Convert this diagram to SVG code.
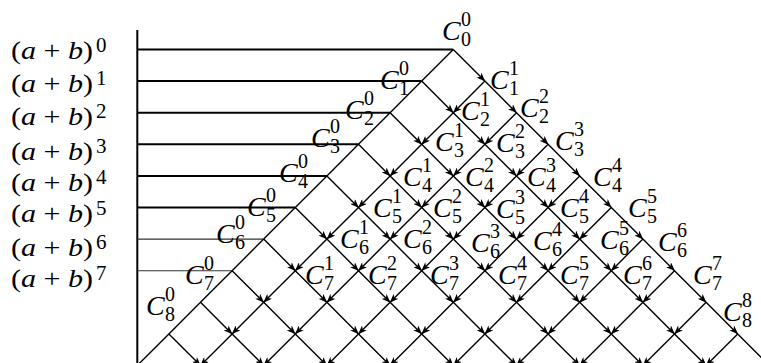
<svg xmlns="http://www.w3.org/2000/svg" width="761" height="363" viewBox="0 0 761 363">
<style>
.bg{fill:#fff}
.frame{stroke:#000;stroke-width:2;fill:none}
.hl{stroke:#000;stroke-width:2;fill:none}
.hlt{stroke:#333;stroke-width:1.1;fill:none}
.e{stroke:#000;stroke-width:1.4;fill:none;stroke-linejoin:miter}
.ea{marker-mid:url(#ah);marker-end:url(#ah)}
.c{font-family:"Liberation Serif","Times New Roman",serif;font-style:italic;font-size:28px;fill:#000}
.d{font-family:"Liberation Serif","Times New Roman",serif;font-size:20px;fill:#000}
.lt{font-family:"Liberation Serif","Times New Roman",serif;font-size:26px;fill:#000}
.i{font-style:italic}
.ls{font-family:"Liberation Serif","Times New Roman",serif;font-size:21px;fill:#000}
</style>
<defs>
<marker id="ah" markerUnits="userSpaceOnUse" viewBox="0 0 9 7" markerWidth="9" markerHeight="7" refX="8.5" refY="3.5" orient="auto">
<path d="M0,0 L9,3.5 L0,7 L2.5,3.5 z" fill="#000"/>
</marker>
</defs>
<rect class="bg" x="0" y="0" width="761" height="363"/>

<g id="axes">
<line class="frame" x1="137.3" y1="30" x2="137.3" y2="363"/>
<line class="hl" x1="137.3" y1="49.5" x2="453.3" y2="49.5"/>
<line class="hl" x1="137.3" y1="81.1" x2="421.7" y2="81.1"/>
<line class="hl" x1="137.3" y1="112.7" x2="390.1" y2="112.7"/>
<line class="hl" x1="137.3" y1="144.3" x2="358.5" y2="144.3"/>
<line class="hl" x1="137.3" y1="175.9" x2="326.9" y2="175.9"/>
<line class="hl" x1="137.3" y1="207.5" x2="295.3" y2="207.5"/>
<line class="hlt" x1="137.3" y1="239.1" x2="263.7" y2="239.1"/>
<line class="hlt" x1="137.3" y1="270.7" x2="232.1" y2="270.7"/>
</g>

<g id="connectors">
<polyline class="e ea" points="453.3,49.5 484.9,81.1 516.5,112.7 548.1,144.3 579.7,175.9 611.3,207.5 642.9,239.1 674.5,270.7 706.1,302.3 737.7,333.9 769.3,365.5"/>
<polyline class="e ea" points="421.7,81.1 453.3,112.7 484.9,144.3 516.5,175.9 548.1,207.5 579.7,239.1 611.3,270.7 642.9,302.3 674.5,333.9 706.1,365.5"/>
<polyline class="e ea" points="390.1,112.7 421.7,144.3 453.3,175.9 484.9,207.5 516.5,239.1 548.1,270.7 579.7,302.3 611.3,333.9 642.9,365.5"/>
<polyline class="e ea" points="358.5,144.3 390.1,175.9 421.7,207.5 453.3,239.1 484.9,270.7 516.5,302.3 548.1,333.9 579.7,365.5"/>
<polyline class="e ea" points="326.9,175.9 358.5,207.5 390.1,239.1 421.7,270.7 453.3,302.3 484.9,333.9 516.5,365.5"/>
<polyline class="e ea" points="295.3,207.5 326.9,239.1 358.5,270.7 390.1,302.3 421.7,333.9 453.3,365.5"/>
<polyline class="e ea" points="263.7,239.1 295.3,270.7 326.9,302.3 358.5,333.9 390.1,365.5"/>
<polyline class="e ea" points="232.1,270.7 263.7,302.3 295.3,333.9 326.9,365.5"/>
<polyline class="e ea" points="200.5,302.3 232.1,333.9 263.7,365.5"/>
<polyline class="e ea" points="168.9,333.9 200.5,365.5"/>
<polyline class="e" points="453.3,49.5 421.7,81.1 390.1,112.7 358.5,144.3 326.9,175.9 295.3,207.5 263.7,239.1 232.1,270.7 200.5,302.3 168.9,333.9 137.3,365.5"/>
<polyline class="e ea" points="484.9,81.1 453.3,112.7 421.7,144.3 390.1,175.9 358.5,207.5 326.9,239.1 295.3,270.7 263.7,302.3 232.1,333.9 200.5,365.5"/>
<polyline class="e ea" points="516.5,112.7 484.9,144.3 453.3,175.9 421.7,207.5 390.1,239.1 358.5,270.7 326.9,302.3 295.3,333.9 263.7,365.5"/>
<polyline class="e ea" points="548.1,144.3 516.5,175.9 484.9,207.5 453.3,239.1 421.7,270.7 390.1,302.3 358.5,333.9 326.9,365.5"/>
<polyline class="e ea" points="579.7,175.9 548.1,207.5 516.5,239.1 484.9,270.7 453.3,302.3 421.7,333.9 390.1,365.5"/>
<polyline class="e ea" points="611.3,207.5 579.7,239.1 548.1,270.7 516.5,302.3 484.9,333.9 453.3,365.5"/>
<polyline class="e ea" points="642.9,239.1 611.3,270.7 579.7,302.3 548.1,333.9 516.5,365.5"/>
<polyline class="e ea" points="674.5,270.7 642.9,302.3 611.3,333.9 579.7,365.5"/>
<polyline class="e ea" points="706.1,302.3 674.5,333.9 642.9,365.5"/>
<polyline class="e ea" points="737.7,333.9 706.1,365.5"/>
</g>

<g id="row-labels">
<g id="p0"><text class="lt" x="11" y="59" textLength="82" lengthAdjust="spacingAndGlyphs">(<tspan class="i">a</tspan> + <tspan class="i">b</tspan>)</text><text class="ls" x="96" y="52">0</text></g>
<g id="p1"><text class="lt" x="11" y="92" textLength="82" lengthAdjust="spacingAndGlyphs">(<tspan class="i">a</tspan> + <tspan class="i">b</tspan>)</text><text class="ls" x="96" y="85">1</text></g>
<g id="p2"><text class="lt" x="11" y="125" textLength="82" lengthAdjust="spacingAndGlyphs">(<tspan class="i">a</tspan> + <tspan class="i">b</tspan>)</text><text class="ls" x="96" y="118">2</text></g>
<g id="p3"><text class="lt" x="11" y="160" textLength="82" lengthAdjust="spacingAndGlyphs">(<tspan class="i">a</tspan> + <tspan class="i">b</tspan>)</text><text class="ls" x="96" y="153">3</text></g>
<g id="p4"><text class="lt" x="11" y="191" textLength="82" lengthAdjust="spacingAndGlyphs">(<tspan class="i">a</tspan> + <tspan class="i">b</tspan>)</text><text class="ls" x="96" y="184">4</text></g>
<g id="p5"><text class="lt" x="11" y="222" textLength="82" lengthAdjust="spacingAndGlyphs">(<tspan class="i">a</tspan> + <tspan class="i">b</tspan>)</text><text class="ls" x="96" y="215">5</text></g>
<g id="p6"><text class="lt" x="11" y="256" textLength="82" lengthAdjust="spacingAndGlyphs">(<tspan class="i">a</tspan> + <tspan class="i">b</tspan>)</text><text class="ls" x="96" y="249">6</text></g>
<g id="p7"><text class="lt" x="11" y="287" textLength="82" lengthAdjust="spacingAndGlyphs">(<tspan class="i">a</tspan> + <tspan class="i">b</tspan>)</text><text class="ls" x="96" y="280">7</text></g>
</g>

<g id="nodes">
<g id="c0-0"><text class="c" x="442" y="40">C</text><text class="d" x="461" y="26">0</text><text class="d" x="461" y="46">0</text></g>
<g id="c1-0"><text class="c" x="380" y="89">C</text><text class="d" x="399" y="75">0</text><text class="d" x="399" y="95">1</text></g>
<g id="c1-1"><text class="c" x="490" y="89">C</text><text class="d" x="509" y="75">1</text><text class="d" x="509" y="95">1</text></g>
<g id="c2-0"><text class="c" x="345" y="119">C</text><text class="d" x="364" y="105">0</text><text class="d" x="364" y="125">2</text></g>
<g id="c2-1"><text class="c" x="461" y="120">C</text><text class="d" x="480" y="106">1</text><text class="d" x="480" y="126">2</text></g>
<g id="c2-2"><text class="c" x="520" y="117">C</text><text class="d" x="539" y="103">2</text><text class="d" x="539" y="123">2</text></g>
<g id="c3-0"><text class="c" x="311" y="147">C</text><text class="d" x="330" y="133">0</text><text class="d" x="330" y="153">3</text></g>
<g id="c3-1"><text class="c" x="435" y="151">C</text><text class="d" x="454" y="137">1</text><text class="d" x="454" y="157">3</text></g>
<g id="c3-2"><text class="c" x="496" y="152">C</text><text class="d" x="515" y="138">2</text><text class="d" x="515" y="158">3</text></g>
<g id="c3-3"><text class="c" x="555" y="150">C</text><text class="d" x="574" y="136">3</text><text class="d" x="574" y="156">3</text></g>
<g id="c4-0"><text class="c" x="279" y="182">C</text><text class="d" x="298" y="168">0</text><text class="d" x="298" y="188">4</text></g>
<g id="c4-1"><text class="c" x="403" y="186">C</text><text class="d" x="422" y="172">1</text><text class="d" x="422" y="192">4</text></g>
<g id="c4-2"><text class="c" x="465" y="186">C</text><text class="d" x="484" y="172">2</text><text class="d" x="484" y="192">4</text></g>
<g id="c4-3"><text class="c" x="527" y="186">C</text><text class="d" x="546" y="172">3</text><text class="d" x="546" y="192">4</text></g>
<g id="c4-4"><text class="c" x="593" y="186">C</text><text class="d" x="612" y="172">4</text><text class="d" x="612" y="192">4</text></g>
<g id="c5-0"><text class="c" x="247" y="216">C</text><text class="d" x="266" y="202">0</text><text class="d" x="266" y="222">5</text></g>
<g id="c5-1"><text class="c" x="373" y="217">C</text><text class="d" x="392" y="203">1</text><text class="d" x="392" y="223">5</text></g>
<g id="c5-2"><text class="c" x="433" y="217">C</text><text class="d" x="452" y="203">2</text><text class="d" x="452" y="223">5</text></g>
<g id="c5-3"><text class="c" x="496" y="218">C</text><text class="d" x="515" y="204">3</text><text class="d" x="515" y="224">5</text></g>
<g id="c5-4"><text class="c" x="560" y="217">C</text><text class="d" x="579" y="203">4</text><text class="d" x="579" y="223">5</text></g>
<g id="c5-5"><text class="c" x="628" y="217">C</text><text class="d" x="647" y="203">5</text><text class="d" x="647" y="223">5</text></g>
<g id="c6-0"><text class="c" x="216" y="243">C</text><text class="d" x="235" y="229">0</text><text class="d" x="235" y="249">6</text></g>
<g id="c6-1"><text class="c" x="340" y="248">C</text><text class="d" x="359" y="234">1</text><text class="d" x="359" y="254">6</text></g>
<g id="c6-2"><text class="c" x="403" y="248">C</text><text class="d" x="422" y="234">2</text><text class="d" x="422" y="254">6</text></g>
<g id="c6-3"><text class="c" x="471" y="252">C</text><text class="d" x="490" y="238">3</text><text class="d" x="490" y="258">6</text></g>
<g id="c6-4"><text class="c" x="533" y="250">C</text><text class="d" x="552" y="236">4</text><text class="d" x="552" y="256">6</text></g>
<g id="c6-5"><text class="c" x="600" y="249">C</text><text class="d" x="619" y="235">5</text><text class="d" x="619" y="255">6</text></g>
<g id="c6-6"><text class="c" x="658" y="251">C</text><text class="d" x="677" y="237">6</text><text class="d" x="677" y="257">6</text></g>
<g id="c7-0"><text class="c" x="185" y="284">C</text><text class="d" x="204" y="270">0</text><text class="d" x="204" y="290">7</text></g>
<g id="c7-1"><text class="c" x="305" y="284">C</text><text class="d" x="324" y="270">1</text><text class="d" x="324" y="290">7</text></g>
<g id="c7-2"><text class="c" x="368" y="284">C</text><text class="d" x="387" y="270">2</text><text class="d" x="387" y="290">7</text></g>
<g id="c7-3"><text class="c" x="430" y="284">C</text><text class="d" x="449" y="270">3</text><text class="d" x="449" y="290">7</text></g>
<g id="c7-4"><text class="c" x="498" y="284">C</text><text class="d" x="517" y="270">4</text><text class="d" x="517" y="290">7</text></g>
<g id="c7-5"><text class="c" x="560" y="284">C</text><text class="d" x="579" y="270">5</text><text class="d" x="579" y="290">7</text></g>
<g id="c7-6"><text class="c" x="623" y="284">C</text><text class="d" x="642" y="270">6</text><text class="d" x="642" y="290">7</text></g>
<g id="c7-7"><text class="c" x="693" y="284">C</text><text class="d" x="712" y="270">7</text><text class="d" x="712" y="290">7</text></g>
<g id="c8-0"><text class="c" x="146" y="315">C</text><text class="d" x="165" y="301">0</text><text class="d" x="165" y="321">8</text></g>
<g id="c8-8"><text class="c" x="723" y="321">C</text><text class="d" x="742" y="307">8</text><text class="d" x="742" y="327">8</text></g>
</g>
</svg>
